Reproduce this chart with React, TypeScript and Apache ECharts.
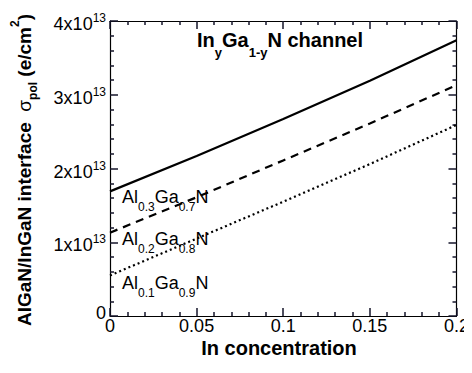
import React, { useEffect, useRef } from "react";
import * as echarts from "echarts";

// In concentration (x) and sheet charge in units of 1e13 e/cm^2
const inConc = [0, 0.05, 0.1, 0.15, 0.2];
const al03Values = [1.69, 2.17, 2.67, 3.19, 3.74];
const al02Values = [1.13, 1.61, 2.11, 2.61, 3.13];
const al01Values = [0.55, 1.05, 1.55, 2.06, 2.59];
const seriesNames = ["Al0.3Ga0.7N", "Al0.2Ga0.8N", "Al0.1Ga0.9N"];
const yExponent = "13";

const FONT = "'Liberation Sans', Arial, Helvetica, sans-serif";
const INK = "#14142a";

const pairs = (ys: number[]) => inConc.map((x, i) => [x, ys[i]]);

const alloyLabel = (al: string, ga: string) =>
  `{m|Al}{s|${al}}{m|Ga}{s|${ga}}{m|N}`;

const tickStyle = () => ({ color: INK, width: 1.5 });

const xAxisBase = (pos: "bottom" | "top", labels: boolean) => ({
  type: "value",
  position: pos,
  min: 0,
  max: 0.2,
  interval: 0.05,
  axisLine: { show: true, onZero: false, lineStyle: { color: "#000", width: 1.2 } },
  axisTick: { show: true, inside: true, length: 8, lineStyle: tickStyle() },
  minorTick: { show: true, splitNumber: 5, length: 4, lineStyle: tickStyle() },
  splitLine: { show: false },
  axisLabel: labels
    ? {
        show: true,
        margin: 1,
        fontSize: 18,
        fontFamily: FONT,
        color: "#000",
        formatter: (v: number) => String(parseFloat(v.toFixed(2))),
      }
    : { show: false },
});

const yAxisBase = (pos: "left" | "right", labels: boolean) => ({
  type: "value",
  position: pos,
  min: 0,
  max: 4,
  interval: 1,
  axisLine: { show: true, onZero: false, lineStyle: { color: "#000", width: 1.2 } },
  axisTick: { show: true, inside: true, length: 8, lineStyle: tickStyle() },
  minorTick: { show: true, splitNumber: 5, length: 4, lineStyle: tickStyle() },
  splitLine: { show: false },
  axisLabel: labels
    ? {
        show: true,
        margin: 4,
        padding: [6, 0, 0, 0],
        formatter: (v: number) =>
          v === 0 ? "{z|0}" : `{m|${v}x10}{s|${yExponent}}`,
        rich: {
          m: { fontSize: 18, fontFamily: FONT, color: "#000", lineHeight: 24 },
          s: { fontSize: 12, fontFamily: FONT, color: "#000", verticalAlign: "top" },
          z: {
            fontSize: 18,
            fontFamily: FONT,
            color: "#000",
            lineHeight: 24,
            padding: [0, 0, 12, 0],
          },
        },
      }
    : { show: false },
});

export default function App() {
  const ref = useRef<HTMLDivElement>(null);
  useEffect(() => {
    if (!ref.current) return;
    const chart = echarts.init(ref.current, null, { renderer: "svg" });
    const labelRich = {
      m: { fontSize: 18, fontFamily: FONT, color: "#000", lineHeight: 32 },
      s: { fontSize: 12, fontFamily: FONT, color: "#000", verticalAlign: "bottom" },
    };
    const textStyleBase = {
      align: "left",
      textAlign: "left",
      verticalAlign: "middle",
      textVerticalAlign: "middle",
    };
    const option: any = {
      animation: false,
      grid: { left: 110, right: 13, top: 21, bottom: 57 },
      xAxis: [xAxisBase("bottom", true), xAxisBase("top", false)],
      yAxis: [yAxisBase("left", true), yAxisBase("right", false)],
      series: [
        {
          name: seriesNames[0],
          type: "line",
          xAxisIndex: 0,
          yAxisIndex: 0,
          data: pairs(al03Values),
          showSymbol: false,
          lineStyle: { color: "#000", width: 2.2, type: "solid" },
        },
        {
          name: seriesNames[1],
          type: "line",
          xAxisIndex: 0,
          yAxisIndex: 0,
          data: pairs(al02Values),
          showSymbol: false,
          lineStyle: { color: "#000", width: 2.2, type: [8, 6] },
        },
        {
          name: seriesNames[2],
          type: "line",
          xAxisIndex: 0,
          yAxisIndex: 0,
          data: pairs(al01Values),
          showSymbol: false,
          lineStyle: { color: "#000", width: 2.2, type: [2, 3] },
        },
      ],
      graphic: [
        {
          type: "text",
          x: 197,
          y: 40,
          style: {
            ...textStyleBase,
            text: "{m|In}{s|y}{m|Ga}{s|1-y}{m|N channel}",
            rich: {
              m: { fontSize: 20, fontWeight: "bold", fontFamily: FONT, color: "#000", lineHeight: 38 },
              s: { fontSize: 13, fontWeight: "bold", fontFamily: FONT, color: "#000", verticalAlign: "bottom" },
            },
          },
        },
        {
          type: "text",
          x: 122,
          y: 197,
          style: { ...textStyleBase, text: alloyLabel("0.3", "0.7"), rich: labelRich },
        },
        {
          type: "text",
          x: 122,
          y: 239,
          style: { ...textStyleBase, text: alloyLabel("0.2", "0.8"), rich: labelRich },
        },
        {
          type: "text",
          x: 122,
          y: 283,
          style: { ...textStyleBase, text: alloyLabel("0.1", "0.9"), rich: labelRich },
        },
        {
          type: "text",
          x: 279,
          y: 348,
          style: {
            text: "In concentration",
            fontSize: 20,
            fontWeight: "bold",
            fontFamily: FONT,
            fill: "#000",
            align: "center",
            textAlign: "center",
            verticalAlign: "middle",
            textVerticalAlign: "middle",
          },
        },
        {
          type: "text",
          x: 24,
          y: 170,
          rotation: Math.PI / 2,
          style: {
            text: "{m|AlGaN/InGaN interface  }{g|σ}{s|pol}{m| (e/cm}{p|2}{m|)}",
            align: "center",
            textAlign: "center",
            verticalAlign: "middle",
            textVerticalAlign: "middle",
            rich: {
              m: { fontSize: 19, fontWeight: "bold", fontFamily: FONT, color: "#000", lineHeight: 30 },
              g: { fontSize: 19, fontFamily: FONT, color: "#000" },
              s: { fontSize: 12, fontWeight: "bold", fontFamily: FONT, color: "#000", verticalAlign: "bottom" },
              p: { fontSize: 12, fontWeight: "bold", fontFamily: FONT, color: "#000", verticalAlign: "top" },
            },
          },
        },
      ],
    };
    chart.setOption(option);
    return () => chart.dispose();
  }, []);
  return <div ref={ref} style={{ width: 472, height: 373, margin: -8 }} />;
}
